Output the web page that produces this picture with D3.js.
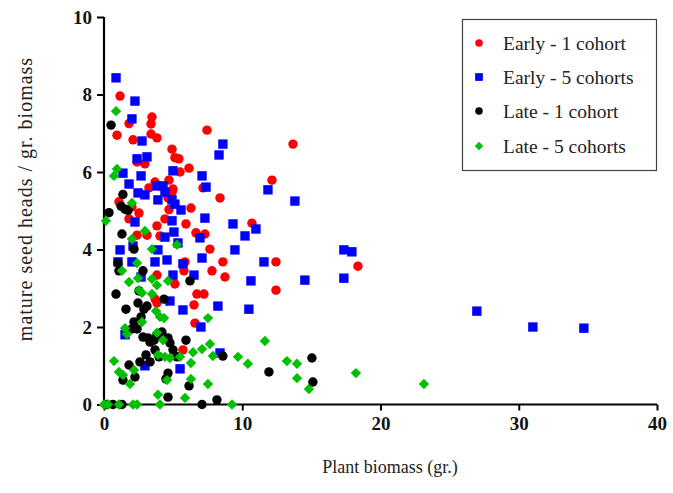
<!DOCTYPE html>
<html>
<head>
<meta charset="utf-8">
<script src="https://cdn.jsdelivr.net/npm/d3@7/dist/d3.min.js"></script>
<style>
  html, body { margin: 0; padding: 0; background: #fff; }
  svg { display: block; }
</style>
</head>
<body>
<svg id="chart" width="673" height="493"></svg>
<script>
// Seed heads per gram of biomass vs plant biomass, four sowing treatments.
// Each point: [plant biomass (g), mature seed heads / g biomass]
const early1 = [
  [1.16,7.96],[0.94,6.95],[1.81,7.25],[2.10,6.83],[3.47,7.42],[3.40,7.24],[3.40,6.98],[3.83,6.88],
  [4.92,6.59],[5.13,6.37],[5.42,6.34],[6.15,6.10],[5.50,6.00],[7.45,7.08],[8.39,5.33],[7.16,5.59],
  [6.29,5.07],[2.39,6.26],[2.96,6.21],[1.08,5.23],[2.02,5.10],[2.53,4.94],[4.70,5.79],[3.69,5.74],
  [4.99,5.56],[3.25,5.59],[4.70,5.03],[5.93,4.66],[6.65,4.43],[7.30,4.40],[1.81,4.79],[3.83,4.61],
  [4.05,4.35],[2.39,4.37],[3.11,4.37],[4.41,4.79],[7.66,4.01],[8.60,3.68],[7.81,3.45],[8.75,3.29],
  [6.72,2.85],[7.23,2.85],[6.51,2.57],[6.58,2.10],[13.67,6.72],[12.15,5.79],[10.70,4.68],[12.44,3.68],
  [12.44,2.95],[18.37,3.57],[4.92,5.48],[4.63,5.33],[3.83,3.34],[5.13,3.11],[3.69,2.72],[3.83,2.62],
  [5.86,3.68],[5.78,3.45],[5.71,1.41]
];
const early5 = [
  [0.87,8.43],[2.24,7.83],[2.02,7.37],[2.75,6.80],[2.39,6.34],[3.11,6.39],[1.37,5.97],[2.68,5.90],
  [1.81,5.69],[2.46,5.46],[2.96,5.41],[3.83,5.64],[4.27,5.64],[4.41,5.48],[3.90,5.28],[4.99,6.03],
  [4.92,5.28],[5.13,5.17],[5.57,5.02],[7.09,5.90],[7.38,5.61],[8.32,6.44],[8.60,6.72],[7.30,4.81],
  [11.86,5.54],[13.81,5.25],[9.33,4.66],[10.99,4.53],[10.20,4.35],[6.94,4.30],[9.47,3.99],[7.09,3.78],
  [11.57,3.68],[6.51,3.34],[10.63,3.19],[8.24,2.54],[10.48,2.46],[7.01,2.00],[8.39,1.33],[17.35,3.99],
  [17.93,3.94],[14.53,3.21],[17.35,3.26],[26.97,2.41],[31.02,2.00],[34.71,1.97],[2.24,4.71],[4.92,4.74],
  [5.06,4.45],[4.41,4.32],[5.35,4.17],[3.90,3.99],[1.16,3.99],[2.10,4.09],[1.01,3.68],[2.02,3.68],
  [3.69,3.68],[4.56,3.73],[5.71,3.63],[4.99,3.34],[4.77,2.67],[5.71,2.44],[1.52,1.80],[2.96,1.00],
  [5.50,0.92],[2.68,3.29]
];
const late1 = [
  [0.51,7.21],[1.37,5.42],[0.36,4.95],[1.23,5.12],[1.52,5.04],[1.74,5.01],[1.30,4.40],[1.01,3.65],
  [1.08,3.45],[2.17,4.01],[2.82,3.45],[0.87,2.85],[1.59,2.46],[2.53,2.93],[2.46,2.62],[2.89,2.46],
  [3.11,2.54],[4.34,2.72],[6.22,3.19],[5.93,1.66],[2.68,2.26],[2.17,2.13],[2.02,1.95],[2.39,1.95],
  [2.82,1.74],[3.18,1.72],[3.33,1.61],[3.62,1.66],[3.83,1.79],[3.69,1.41],[4.63,1.72],[4.77,1.59],
  [4.99,1.41],[3.04,1.28],[3.33,1.10],[2.60,1.10],[3.98,1.23],[1.81,1.02],[2.24,0.71],[1.37,0.63],
  [4.63,0.81],[4.48,0.66],[6.15,0.48],[4.63,0.19],[0.22,0],[0.65,0],[1.30,0],[7.09,0],
  [8.17,0.12],[8.60,1.25],[11.93,0.84],[15.04,1.20],[15.11,0.58],[4.19,1.87],[5.28,1.23]
];
const late5 = [
  [0.87,7.57],[0.94,6.08],[0.72,5.90],[2.02,5.20],[0.14,4.74],[2.02,4.27],[2.96,4.48],[3.47,4.01],
  [5.28,4.12],[1.30,3.45],[1.81,3.16],[2.39,3.65],[2.46,3.26],[2.53,2.95],[2.75,2.88],[3.47,3.24],
  [3.83,3.08],[4.63,3.19],[3.47,2.85],[3.76,2.41],[4.05,2.26],[4.34,2.23],[1.52,1.97],[1.66,1.82],
  [2.75,2.13],[7.52,2.23],[3.83,1.85],[4.27,1.66],[3.90,1.28],[4.41,1.23],[4.77,1.20],[5.50,1.23],
  [6.44,1.35],[7.09,1.43],[7.66,1.56],[7.88,1.25],[6.29,1.07],[0.72,1.12],[1.08,0.84],[1.37,0.76],
  [1.88,0.53],[2.17,0.89],[4.56,0.63],[6.29,0.66],[7.52,0.53],[3.90,0.25],[5.86,0.17],[4.05,0],
  [9.26,0],[9.69,1.23],[10.41,1.05],[11.64,1.64],[13.23,1.12],[13.96,1.05],[13.96,0.68],[14.82,0.40],
  [18.22,0.81],[23.14,0.53],[0,0],[0.29,0],[1.08,0],[2.10,0],[2.39,0]
];

const seriesNames = ["Early - 1 cohort", "Early - 5 cohorts", "Late - 1 cohort", "Late - 5 cohorts"];
const seriesColors = ["#ff0000", "#0000ff", "#000000", "#00c000"];
const seriesShapes = ["circle", "square", "circle", "diamond"];
const xTicks = [0, 10, 20, 30, 40];
const yTicks = [0, 2, 4, 6, 8, 10];
const xTitle = "Plant biomass (gr.)";
const yTitle = "mature seed heads / gr. biomass";

const svg = d3.select("#chart");
const x = d3.scaleLinear().domain([0, 40]).range([104, 657]);
const y = d3.scaleLinear().domain([0, 10]).range([404.5, 17]);

const serif = "'Liberation Serif', 'Times New Roman', serif";

function symbolPath(shape) {
  if (shape === "square") return d3.symbol(d3.symbolSquare, 88)();
  if (shape === "diamond") return d3.symbol(d3.symbolSquare, 54)();
  return d3.symbol(d3.symbolCircle, 70)();
}
function symbolTransform(shape, px, py) {
  return shape === "diamond"
    ? `translate(${px},${py}) rotate(45)`
    : `translate(${px},${py})`;
}

// Axes
const xAxis = d3.axisBottom(x).tickValues(xTicks).tickSize(6).tickPadding(6).tickFormat(d3.format("d"));
const yAxis = d3.axisLeft(y).tickValues(yTicks).tickSize(7).tickPadding(5).tickFormat(d3.format("d"));

const gx = svg.append("g").attr("transform", `translate(0,${y(0)})`).call(xAxis);
const gy = svg.append("g").attr("transform", `translate(${x(0)},0)`).call(yAxis);

[gx, gy].forEach(g => {
  g.select(".domain").attr("stroke", "#000").attr("stroke-width", 2.2);
  g.selectAll(".tick line").attr("stroke", "#000").attr("stroke-width", 2);
  g.selectAll(".tick text")
    .attr("fill", "#111")
    .style("font-family", serif)
    .style("font-weight", "bold")
    .style("font-size", "19px");
});
gx.select(".domain").attr("d", `M${x(0)},0H${x(40)}`);
gy.select(".domain").attr("d", `M0,${y(0)}V${y(10)}`);

// Points
const data = [early1, early5, late1, late5];
data.forEach((pts, i) => {
  const shape = seriesShapes[i];
  svg.append("g")
    .selectAll("path")
    .data(pts)
    .join("path")
    .attr("d", symbolPath(shape))
    .attr("transform", d => symbolTransform(shape, x(d[0]), y(d[1])))
    .attr("fill", seriesColors[i]);
});

// Axis titles
svg.append("text")
  .attr("x", 390).attr("y", 473)
  .attr("text-anchor", "middle")
  .style("font-family", serif).style("font-size", "18px").attr("fill", "#222")
  .text(xTitle);

svg.append("text")
  .attr("transform", "translate(32,199) rotate(-90)")
  .attr("text-anchor", "middle")
  .style("font-family", serif).style("font-size", "20px").style("letter-spacing", "1px")
  .attr("fill", "#222")
  .text(yTitle);

// Legend
const lg = svg.append("g");
lg.append("rect")
  .attr("x", 462.5).attr("y", 19.5).attr("width", 194).attr("height", 151)
  .attr("fill", "#fff").attr("stroke", "#444").attr("stroke-width", 1.2);
const legendY = [43, 77, 111, 146];
seriesNames.forEach((name, i) => {
  const shape = seriesShapes[i];
  lg.append("path")
    .attr("d", shape === "square" ? d3.symbol(d3.symbolSquare, 60)()
             : shape === "diamond" ? d3.symbol(d3.symbolSquare, 36)()
             : d3.symbol(d3.symbolCircle, 44)())
    .attr("transform", symbolTransform(shape, 479, legendY[i]))
    .attr("fill", seriesColors[i]);
  lg.append("text")
    .attr("x", 503).attr("y", legendY[i] + 6.5)
    .style("font-family", serif).style("font-size", "19.5px").attr("fill", "#222")
    .text(name);
});
</script>
</body>
</html>
